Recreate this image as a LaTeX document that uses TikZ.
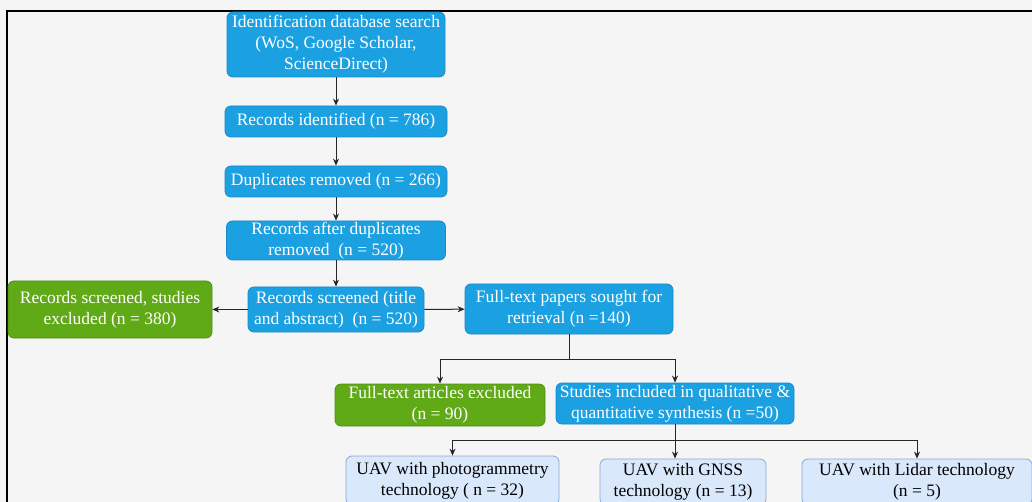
\documentclass[tikz,border=0pt]{standalone}
\usepackage{fontspec}
\setmainfont{Liberation Serif}
\usetikzlibrary{arrows.meta}
\definecolor{bgc}{HTML}{F5F5F5}
\definecolor{bfill}{HTML}{1BA1E2}
\definecolor{bdraw}{HTML}{1A88C9}
\definecolor{gfill}{HTML}{60A917}
\definecolor{gdraw}{HTML}{4F8F12}
\definecolor{lfill}{HTML}{DAE8FC}
\definecolor{ldraw}{HTML}{8AA8D6}
\tikzset{
  box/.style={rectangle, rounded corners=6pt, inner sep=0pt, align=center,
    font=\fontsize{17.5}{21}\selectfont, line width=0.8pt},
  bluebox/.style={box, fill=bfill, draw=bdraw, text=white},
  greenbox/.style={box, fill=gfill, draw=gdraw, text=white},
  lightbox/.style={box, fill=lfill, draw=ldraw, text=black},
  conn/.style={draw=black!85, line width=1pt, -{Stealth[length=7pt,width=6pt]}},
}
\begin{document}
\begin{tikzpicture}[x=1pt,y=-1pt]
\useasboundingbox (0,0) rectangle (1032,502);
\clip (0,0) rectangle (1032,502);
\fill[bgc] (0,0) rectangle (1032,502);
\draw[black, line width=1.6pt] (7,540) -- (7,11) -- (1060,11);

\node[bluebox, minimum width=218pt, minimum height=65pt] (b1) at (336,44.5)
  {Identification database search\\(WoS, Google Scholar,\\ScienceDirect)};
\node[bluebox, minimum width=222pt, minimum height=31pt] (b2) at (336,121.5)
  {Records identified (n = 786)};
\node[bluebox, minimum width=222pt, minimum height=31pt] (b3) at (336,181.5)
  {Duplicates removed (n = 266)};
\node[bluebox, minimum width=219pt, minimum height=39pt] (b4) at (336,240.5)
  {Records after duplicates\\removed\ \ (n = 520)};
\node[greenbox, minimum width=204pt, minimum height=57pt] (g1) at (110,309.5)
  {Records screened, studies\\excluded (n = 380)};
\node[bluebox, minimum width=176pt, minimum height=45pt] (b5) at (336,309.5)
  {Records screened (title\\and abstract)\ \ (n = 520)};
\node[bluebox, minimum width=208pt, minimum height=50pt] (b6) at (569,309)
  {Full-text papers sought for\\retrieval (n =140)};
\node[greenbox, minimum width=210pt, minimum height=42pt] (g2) at (440,405)
  {Full-text articles excluded\\(n = 90)};
\node[bluebox, minimum width=238pt, minimum height=41pt] (b7) at (675,403.5)
  {Studies included in qualitative \&\\quantitative synthesis (n =50)};
\node[lightbox, minimum width=213pt, minimum height=49pt] (l1) at (452.5,480.5)
  {UAV with photogrammetry\\technology ( n = 32)};
\node[lightbox, minimum width=166pt, minimum height=46pt] (l2) at (683,482)
  {UAV with GNSS\\technology (n = 13)};
\node[lightbox, minimum width=230pt, minimum height=46pt] (l3) at (917,482)
  {UAV with Lidar technology\\(n = 5)};

\draw[conn] (b1) -- (b2);
\draw[conn] (b2) -- (b3);
\draw[conn] (b3) -- (b4);
\draw[conn] (b4) -- (b5);
\draw[conn] (b5) -- (g1);
\draw[conn] (b5) -- (b6);
\coordinate (s1) at (569,359);
\draw[conn] (b6.south) -- (s1) -| (g2.north);
\draw[conn] (s1) -| (b7.north);
\coordinate (s2) at (675,440);
\draw[conn] (b7.south) -- (s2) -| (l1.north);
\draw[conn] (s2) -| (l3.north);
\draw[conn] (s2) -- (l2.north -| s2);
\end{tikzpicture}
\end{document}
